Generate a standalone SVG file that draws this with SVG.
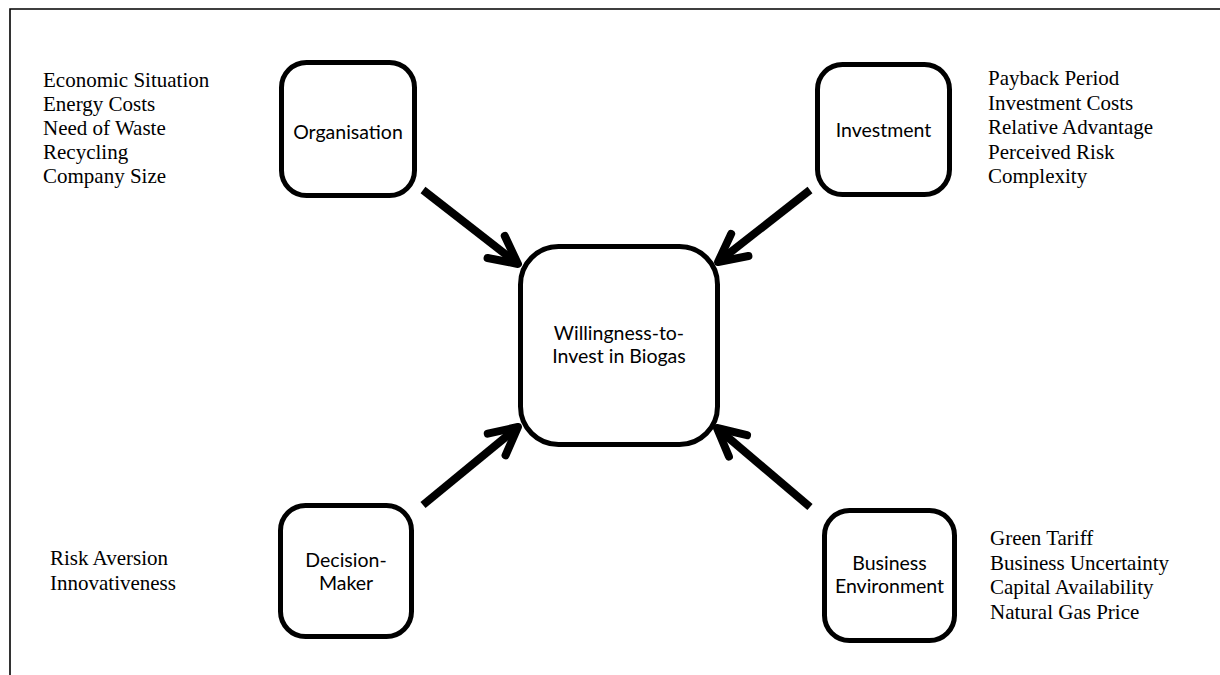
<svg xmlns="http://www.w3.org/2000/svg" width="1220" height="675" viewBox="0 0 1220 675">
<style>
.frame{fill:none;stroke:#000;stroke-width:1.6}
.box{fill:#fff;stroke:#000;stroke-width:5}
.conn{fill:none;stroke:#000;stroke-width:8;stroke-linecap:butt}
.lbl{font-family:Lato,"Open Sans",sans-serif;font-size:19.5px;fill:#000;text-anchor:middle}
.lst{font-family:"Liberation Serif","Times New Roman",serif;font-size:21px;fill:#000}
</style>
<defs>
<marker id="chev" viewBox="-40 -22 50 44" refX="-4" refY="0" markerWidth="50" markerHeight="44" markerUnits="userSpaceOnUse" orient="auto" overflow="visible">
<path d="M-27.6,-14 L0,0 L-27.6,14" fill="none" stroke="#000" stroke-width="8" stroke-linecap="round" stroke-linejoin="round"/>
</marker>
</defs>
<rect width="1220" height="675" fill="#fff"/>
<path class="frame" d="M1220,9 H10 V675"/>

<g id="connectors">
<line class="conn" x1="423" y1="190" x2="514.8" y2="261.5" marker-end="url(#chev)"/>
<line class="conn" x1="810" y1="190" x2="721.2" y2="259.5" marker-end="url(#chev)"/>
<line class="conn" x1="423" y1="505" x2="514.9" y2="429.5" marker-end="url(#chev)"/>
<line class="conn" x1="810" y1="507" x2="720" y2="430.6" marker-end="url(#chev)"/>
</g>

<g id="organisation">
<rect class="box" x="281.5" y="62.5" width="133" height="133" rx="25"/>
<text class="lbl" x="348" y="139">Organisation</text>
</g>
<g id="investment">
<rect class="box" x="817.5" y="64.5" width="132" height="130" rx="25"/>
<text class="lbl" x="883.5" y="137">Investment</text>
</g>
<g id="willingness">
<rect class="box" x="520.5" y="246.5" width="197" height="198" rx="38"/>
<text class="lbl" x="619" y="340">Willingness-to-</text>
<text class="lbl" x="619" y="363">Invest in Biogas</text>
</g>
<g id="decision-maker">
<rect class="box" x="280.5" y="505.5" width="131" height="131" rx="25"/>
<text class="lbl" x="346" y="567">Decision-</text>
<text class="lbl" x="346" y="590">Maker</text>
</g>
<g id="business-environment">
<rect class="box" x="824.5" y="510.5" width="130" height="130" rx="25"/>
<text class="lbl" x="889.5" y="570">Business</text>
<text class="lbl" x="889.5" y="593">Environment</text>
</g>

<g id="organisation-factors" class="lst">
<text x="43" y="87">Economic Situation</text>
<text x="43" y="111">Energy Costs</text>
<text x="43" y="135">Need of Waste</text>
<text x="43" y="159">Recycling</text>
<text x="43" y="183">Company Size</text>
</g>
<g id="investment-factors" class="lst">
<text x="988" y="85">Payback Period</text>
<text x="988" y="109.5">Investment Costs</text>
<text x="988" y="134">Relative Advantage</text>
<text x="988" y="158.5">Perceived Risk</text>
<text x="988" y="183">Complexity</text>
</g>
<g id="decision-maker-factors" class="lst">
<text x="50" y="565">Risk Aversion</text>
<text x="50" y="590">Innovativeness</text>
</g>
<g id="business-factors" class="lst">
<text x="990" y="545">Green Tariff</text>
<text x="990" y="570">Business Uncertainty</text>
<text x="990" y="594">Capital Availability</text>
<text x="990" y="619">Natural Gas Price</text>
</g>
</svg>
